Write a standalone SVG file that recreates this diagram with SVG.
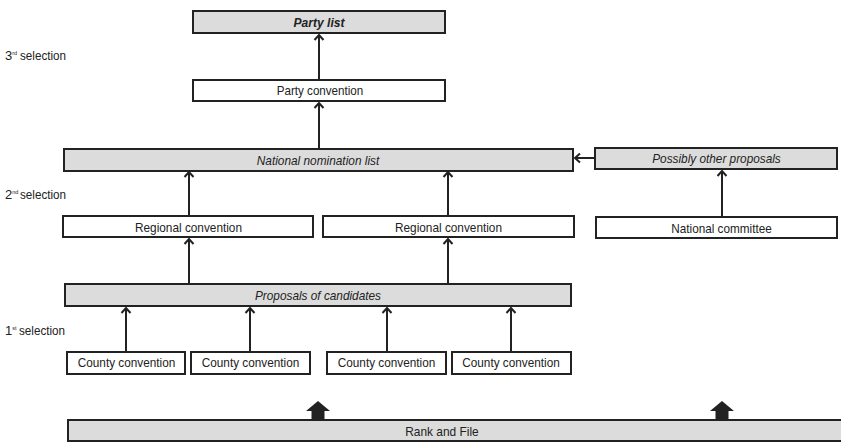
<svg xmlns="http://www.w3.org/2000/svg" width="841" height="442" viewBox="0 0 841 442">
  <style>
    .box { stroke: #222; stroke-width: 2; fill: #fff; }
    .shade { fill: #dcdcdc; }
    .t { font-family: "Liberation Sans", Arial, sans-serif; font-size: 13px; fill: #222; text-anchor: middle; }
    .it { font-style: italic; }
    .bd { font-weight: bold; }
    .lbl { font-family: "Liberation Sans", Arial, sans-serif; font-size: 13px; fill: #222; }
    .sup { font-size: 5.5px; }
    .conn { stroke: #222; stroke-width: 2; fill: none; marker-end: url(#chev); }
    .block { fill: #222; }
  </style>
  <defs>
    <marker id="chev" viewBox="-6 -6 12 12" markerWidth="12" markerHeight="12" markerUnits="userSpaceOnUse" orient="auto" refX="0" refY="0">
      <path d="M-5,-4.5 L0,0 L-5,4.5" fill="none" stroke="#222" stroke-width="2"/>
    </marker>
  </defs>

  <rect width="841" height="442" fill="#fff"/>

  <!-- Selection stage labels -->
  <g id="stage-labels">
    <text class="lbl" x="5" y="60">3<tspan class="sup" dy="-5">rd</tspan><tspan x="20" dy="5" textLength="46" lengthAdjust="spacingAndGlyphs">selection</tspan></text>
    <text class="lbl" x="5" y="199">2<tspan class="sup" dy="-5">nd</tspan><tspan x="20" dy="5" textLength="46" lengthAdjust="spacingAndGlyphs">selection</tspan></text>
    <text class="lbl" x="5" y="335">1<tspan class="sup" dy="-5">st</tspan><tspan x="19" dy="5" textLength="46" lengthAdjust="spacingAndGlyphs">selection</tspan></text>
  </g>

  <!-- Connectors -->
  <g id="connectors">
    <line class="conn" x1="319" y1="79" x2="319" y2="35"/>
    <line class="conn" x1="319" y1="148" x2="319" y2="103"/>
    <line class="conn" x1="189" y1="215" x2="189" y2="172"/>
    <line class="conn" x1="448" y1="215" x2="448" y2="172"/>
    <line class="conn" x1="595" y1="158" x2="575" y2="158"/>
    <line class="conn" x1="722" y1="216" x2="722" y2="171"/>
    <line class="conn" x1="189" y1="283" x2="189" y2="239"/>
    <line class="conn" x1="448" y1="283" x2="448" y2="239"/>
    <line class="conn" x1="126" y1="351" x2="126" y2="308"/>
    <line class="conn" x1="250" y1="351" x2="250" y2="308"/>
    <line class="conn" x1="387" y1="351" x2="387" y2="308"/>
    <line class="conn" x1="511" y1="351" x2="511" y2="308"/>
    <!-- block arrows rising from the membership -->
    <path class="block" d="M318,401 L330,411 L324.5,411 L324.5,420 L311.5,420 L311.5,411 L306,411 Z"/>
    <path class="block" d="M722,401 L734,411 L728.5,411 L728.5,420 L715.5,420 L715.5,411 L710,411 Z"/>
  </g>

  <g id="party-list">
    <rect class="box shade" x="193" y="11" width="252" height="22"/>
    <text class="t it bd" x="319" y="26.5" textLength="51" lengthAdjust="spacingAndGlyphs">Party list</text>
  </g>
  <g id="party-convention">
    <rect class="box" x="193" y="80" width="252" height="21"/>
    <text class="t" x="320" y="95" textLength="86.5" lengthAdjust="spacingAndGlyphs">Party convention</text>
  </g>
  <g id="national-nomination-list">
    <rect class="box shade" x="64" y="149" width="509" height="22"/>
    <text class="t it" x="318" y="164.5" textLength="122.5" lengthAdjust="spacingAndGlyphs">National nomination list</text>
  </g>
  <g id="possibly-other-proposals">
    <rect class="box shade" x="595" y="148" width="242" height="21"/>
    <text class="t it" x="716.5" y="163" textLength="128.5" lengthAdjust="spacingAndGlyphs">Possibly other proposals</text>
  </g>
  <g id="regional-convention-1">
    <rect class="box" x="63" y="216" width="250" height="21"/>
    <text class="t" x="188.5" y="231.5" textLength="107" lengthAdjust="spacingAndGlyphs">Regional convention</text>
  </g>
  <g id="regional-convention-2">
    <rect class="box" x="323" y="216" width="251" height="21"/>
    <text class="t" x="448.5" y="231.5" textLength="107" lengthAdjust="spacingAndGlyphs">Regional convention</text>
  </g>
  <g id="national-committee">
    <rect class="box" x="596" y="217" width="241" height="21"/>
    <text class="t" x="721.5" y="232.5" textLength="100.5" lengthAdjust="spacingAndGlyphs">National committee</text>
  </g>
  <g id="proposals-of-candidates">
    <rect class="box shade" x="65" y="284" width="506" height="22"/>
    <text class="t it" x="318" y="299.5" textLength="126" lengthAdjust="spacingAndGlyphs">Proposals of candidates</text>
  </g>
  <g id="county-convention-1">
    <rect class="box" x="67" y="352" width="118" height="22"/>
    <text class="t" x="126.5" y="367" textLength="97.5" lengthAdjust="spacingAndGlyphs">County convention</text>
  </g>
  <g id="county-convention-2">
    <rect class="box" x="191" y="352" width="119" height="22"/>
    <text class="t" x="250.5" y="367" textLength="97.5" lengthAdjust="spacingAndGlyphs">County convention</text>
  </g>
  <g id="county-convention-3">
    <rect class="box" x="327" y="352" width="119" height="22"/>
    <text class="t" x="386.5" y="367" textLength="97.5" lengthAdjust="spacingAndGlyphs">County convention</text>
  </g>
  <g id="county-convention-4">
    <rect class="box" x="452" y="352" width="119" height="22"/>
    <text class="t" x="511" y="367" textLength="97.5" lengthAdjust="spacingAndGlyphs">County convention</text>
  </g>
  <g id="rank-and-file">
    <rect class="box shade" x="68" y="420" width="790" height="21"/>
    <text class="t" x="442" y="435.5" textLength="73.5" lengthAdjust="spacingAndGlyphs">Rank and File</text>
  </g>
</svg>
